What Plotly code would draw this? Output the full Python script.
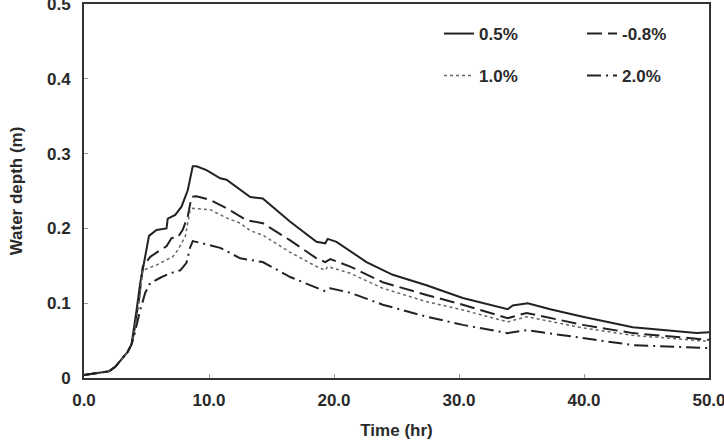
import plotly.graph_objects as go

# Time (hr) and water depth (m) for each slope
t_05 = [0, 1, 2, 2.5, 3, 3.5, 3.8, 4.0, 4.2, 4.5, 4.95, 5.2, 5.8, 6.6, 6.7, 7.3, 7.8, 8.3, 8.7, 9.0, 9.8, 10.9, 11.4, 12.5, 13.3, 14.3, 16.5, 18.6, 19.3, 19.5, 20.2, 22.6, 24.7, 27.4, 30.3, 33.9, 34.3, 35.5, 37.3, 39.9, 43.9, 49.0, 50.0]
y_05 = [0.004, 0.006, 0.009, 0.015, 0.025, 0.035, 0.045, 0.065, 0.09, 0.127, 0.171, 0.19, 0.198, 0.2, 0.213, 0.218, 0.229, 0.251, 0.283, 0.283, 0.278, 0.267, 0.265, 0.251, 0.242, 0.24, 0.209, 0.182, 0.18, 0.186, 0.182, 0.155, 0.138, 0.124, 0.107, 0.092, 0.097, 0.1, 0.092, 0.082, 0.068, 0.06, 0.061]

t_08 = [0, 1, 2, 2.5, 3, 3.5, 3.8, 4.0, 4.2, 4.4, 4.7, 5.3, 6.1, 6.6, 7.0, 7.5, 7.9, 8.3, 8.6, 9.0, 10.1, 11.4, 13.0, 14.3, 16.5, 18.6, 19.3, 19.7, 21.3, 23.9, 27.4, 30.3, 33.9, 35.4, 39.9, 43.9, 50.0]
y_08 = [0.004, 0.006, 0.009, 0.015, 0.025, 0.035, 0.045, 0.06, 0.085, 0.105, 0.149, 0.162, 0.171, 0.176, 0.187, 0.188, 0.198, 0.216, 0.242, 0.243, 0.238, 0.227, 0.211, 0.207, 0.184, 0.16, 0.155, 0.159, 0.149, 0.128, 0.111, 0.098, 0.08, 0.087, 0.071, 0.06, 0.051]

t_10 = [0, 1, 2, 2.5, 3, 3.5, 3.8, 4.0, 4.2, 4.4, 4.7, 5.8, 6.6, 7.1, 7.5, 8.1, 8.5, 8.7, 10.1, 11.4, 12.5, 13.3, 14.3, 16.5, 18.6, 19.3, 19.5, 21.3, 23.9, 27.4, 30.3, 33.9, 35.4, 39.9, 43.9, 50.0]
y_10 = [0.004, 0.006, 0.009, 0.015, 0.025, 0.035, 0.045, 0.06, 0.08, 0.1, 0.144, 0.151, 0.158, 0.162, 0.171, 0.189, 0.225, 0.227, 0.225, 0.214, 0.207, 0.197, 0.191, 0.168, 0.149, 0.144, 0.149, 0.14, 0.12, 0.102, 0.091, 0.075, 0.082, 0.067, 0.057, 0.049]

t_20 = [0, 1, 2, 2.5, 3, 3.5, 3.8, 4.0, 4.2, 4.5, 4.9, 5.3, 6.1, 6.9, 7.7, 8.2, 8.5, 8.7, 9.5, 10.9, 12.5, 14.3, 16.5, 18.6, 19.3, 19.7, 21.3, 23.9, 27.4, 30.3, 33.9, 35.4, 39.9, 43.9, 50.0]
y_20 = [0.004, 0.006, 0.009, 0.015, 0.025, 0.035, 0.045, 0.055, 0.07, 0.091, 0.114, 0.127, 0.134, 0.14, 0.144, 0.154, 0.175, 0.183, 0.18, 0.174, 0.16, 0.155, 0.135, 0.12, 0.116, 0.12, 0.114, 0.098, 0.082, 0.071, 0.06, 0.064, 0.053, 0.044, 0.04]

names = ["0.5%", "-0.8%", "1.0%", "2.0%"]
x_ticks = [0, 10, 20, 30, 40, 50]
x_ticktext = ["0.0", "10.0", "20.0", "30.0", "40.0", "50.0"]
y_ticks = [0, 0.1, 0.2, 0.3, 0.4, 0.5]
y_ticktext = ["0", "0.1", "0.2", "0.3", "0.4", "0.5"]

series = [(t_05, y_05), (t_08, y_08), (t_10, y_10), (t_20, y_20)]
styles = [
    dict(color="#222222", width=2, dash="solid"),
    dict(color="#222222", width=2, dash="15px,6px"),
    dict(color="#666666", width=1.5, dash="dot"),
    dict(color="#222222", width=2, dash="14px,5px,2px,5px"),
]
legend_ids = ["legend", "legend2", "legend3", "legend4"]

fig = go.Figure()
for (tx, ty), nm, st, lg in zip(series, names, styles, legend_ids):
    fig.add_trace(go.Scatter(x=tx, y=ty, mode="lines", name=nm, line=st, legend=lg))

FAM = "Liberation Sans, Arial, sans-serif"
TXT = "#2a2a2a"
lfont = dict(family=FAM, size=17, color=TXT, weight="bold")

def leg(xpx, ypx):
    return dict(
        orientation="v", x=(xpx - 84) / 625, y=1 - (ypx - 4) / 374,
        xanchor="left", yanchor="middle", itemwidth=30,
        font=lfont, bgcolor="rgba(0,0,0,0)", borderwidth=0,
    )

fig.update_layout(
    width=724, height=443,
    margin=dict(l=84, r=15, t=4, b=65, autoexpand=False),
    paper_bgcolor="white", plot_bgcolor="white",
    font=dict(family=FAM, size=17, color=TXT),
    showlegend=True,
    legend=leg(439, 34),
    legend2=leg(582, 34),
    legend3=leg(439, 76),
    legend4=leg(582, 76),
    xaxis=dict(
        range=[0, 50], tickvals=x_ticks, ticktext=x_ticktext,
        showline=True, linecolor="#333333", linewidth=2, mirror=True,
        ticks="inside", ticklen=4, tickcolor="#999999", showgrid=False, zeroline=False,
        tickfont=dict(family=FAM, size=17, color=TXT, weight="bold"),
        ticklabelstandoff=6, ticklabeloverflow="allow", automargin=False,
        title=dict(text="Time (hr)", font=dict(family=FAM, size=17, color=TXT, weight="bold"), standoff=15),
    ),
    yaxis=dict(
        range=[0, 0.5], tickvals=y_ticks, ticktext=y_ticktext,
        showline=True, linecolor="#333333", linewidth=2, mirror=True,
        ticks="inside", ticklen=4, tickcolor="#999999", showgrid=False, zeroline=False,
        tickfont=dict(family=FAM, size=17, color=TXT, weight="bold"),
        ticklabelstandoff=8, ticklabeloverflow="allow", automargin=False,
        title=dict(text="Water depth (m)", font=dict(family=FAM, size=17, color=TXT, weight="bold"), standoff=20),
    ),
)

fig.write_html("out.html")
